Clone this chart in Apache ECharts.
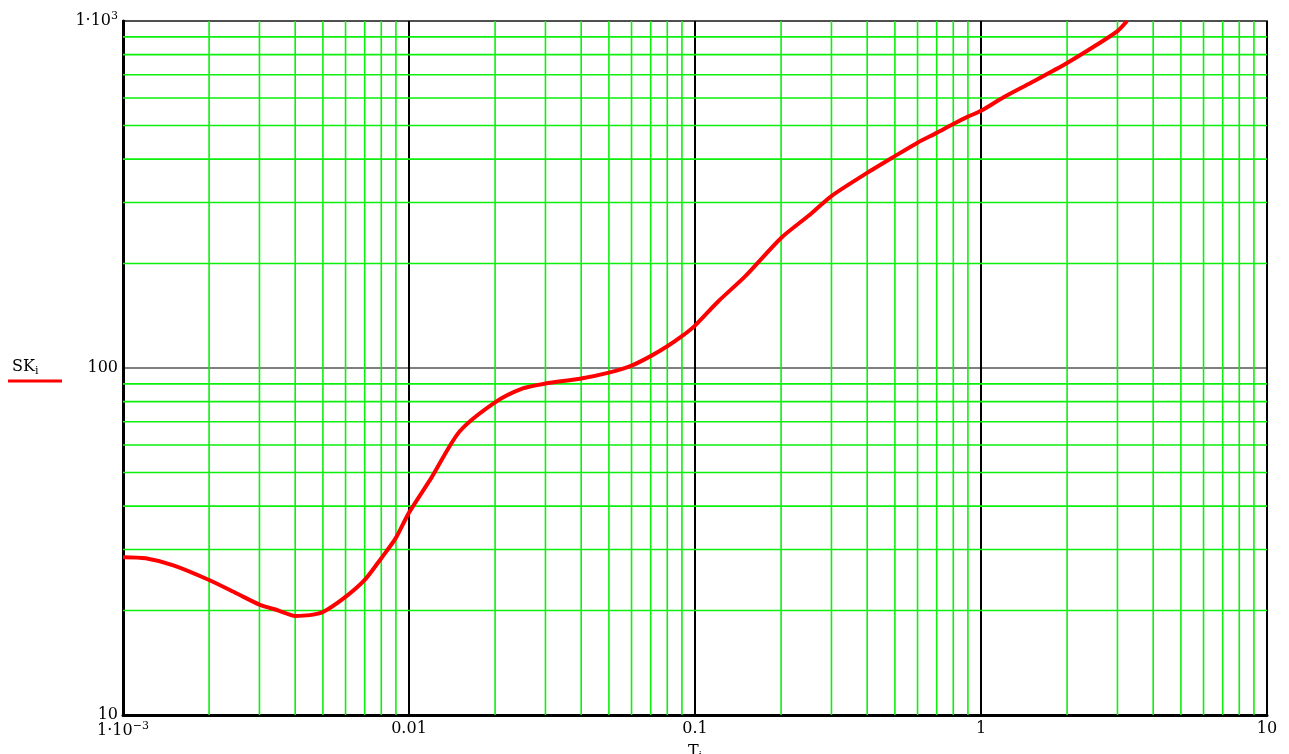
<!DOCTYPE html>
<html>
<head>
<meta charset="utf-8">
<script src="https://cdn.jsdelivr.net/npm/echarts@6/dist/echarts.min.js"></script>
<style>
  html, body { margin: 0; padding: 0; background: #fff; }
  #chart { width: 1289px; height: 754px; }
</style>
</head>
<body>
<div id="chart"></div>
<script>
// T_i values (x) and SK_i values (y)
var T = [0.001, 0.0012, 0.0015, 0.002, 0.0025, 0.003, 0.0035, 0.004, 0.0045, 0.005,
  0.006, 0.007, 0.008, 0.009, 0.01, 0.012, 0.015, 0.02, 0.025, 0.03,
  0.04, 0.05, 0.06, 0.07, 0.08, 0.09, 0.1, 0.12, 0.15, 0.2,
  0.25, 0.3, 0.4, 0.5, 0.6, 0.7, 0.8, 0.9, 1, 1.2,
  1.5, 2, 2.5, 3, 3.24]
var SK = [28.5, 28.3, 27.0, 24.5, 22.4, 20.8, 20.0, 19.3, 19.4, 19.8,
  21.9, 24.5, 28.3, 32.4, 38.3, 48.4, 65.5, 79.6, 87.3, 90.2,
  93.3, 97, 101.6, 108.2, 115.5, 123.5, 132.5, 155, 184, 237,
  275, 313, 365, 408, 446, 476, 505, 530, 551, 603,
  665, 757, 847, 935, 1000]

// tick labels
var xLabels = { '0.001': '1·10{sup|−3}', '0.01': '0.01', '0.1': '0.1', '1': '1', '10': '10' }
var yLabels = { '10': '10', '100': '100', '1000': '1·10{sup|3}' }

// minor grid positions (2..9 within each decade)
var xMinor = [0.002, 0.003, 0.004, 0.005, 0.006, 0.007, 0.008, 0.009,
  0.02, 0.03, 0.04, 0.05, 0.06, 0.07, 0.08, 0.09,
  0.2, 0.3, 0.4, 0.5, 0.6, 0.7, 0.8, 0.9,
  2, 3, 4, 5, 6, 7, 8, 9]
var yMinor = [20, 30, 40, 50, 60, 70, 80, 90,
  200, 300, 400, 500, 600, 700, 800, 900]

var chart = echarts.init(document.getElementById('chart'))

var font = 'DejaVu Serif'
var rich = {
  sup: { fontFamily: font, fontSize: 11, verticalAlign: 'top', padding: [0, 0, 9, 0], color: '#000' },
  sub: { fontFamily: font, fontSize: 11, padding: [9, 0, 0, 0], color: '#000' }
}

function labelKey(v) {
  return String(Math.round(v * 1e6) / 1e6)
}

// gridlines as broken line series: each one goes edge to edge
var xGrid = []
xMinor.forEach(function (v) { xGrid.push([v, 10], [v, 1000], '-') })
var yGrid = []
yMinor.forEach(function (v) { yGrid.push([0.001, v], [10, v], '-') })

var gridStyle = { color: '#0cf00c', width: 1.6 }

chart.setOption({
  animation: false,
  grid: {
    left: 123,
    right: 22,
    top: 21,
    bottom: 39,
    outerBoundsMode: 'none',
    containLabel: false,
    show: true,
    borderColor: '#000',
    borderWidth: 1.5
  },
  xAxis: {
    type: 'log',
    logBase: 10,
    min: 0.001,
    max: 10,
    name: 'T{sub|i}',
    nameLocation: 'middle',
    nameGap: 26,
    nameTextStyle: { fontFamily: font, fontSize: 16, color: '#000', rich: rich },
    axisLine: { lineStyle: { color: '#000', width: 3 } },
    axisTick: { show: false },
    splitLine: { show: true, lineStyle: { color: '#000', width: 2 } },
    axisLabel: {
      fontFamily: font,
      fontSize: 16,
      color: '#000',
      margin: 6,
      rich: rich,
      formatter: function (v) { return xLabels[labelKey(v)] || '' }
    }
  },
  yAxis: {
    type: 'log',
    logBase: 10,
    min: 10,
    max: 1000,
    axisLine: { lineStyle: { color: '#000', width: 3 } },
    axisTick: { show: false },
    splitLine: { show: true, lineStyle: { color: '#555', width: 1.5 } },
    axisLabel: {
      fontFamily: font,
      fontSize: 16,
      color: '#000',
      margin: 5,
      rich: rich,
      formatter: function (v) { return yLabels[labelKey(v)] || '' }
    }
  },
  graphic: [
    {
      type: 'text',
      left: 12,
      top: 359,
      style: {
        text: 'SK{sub|i}',
        fontFamily: font,
        fontSize: 16,
        fill: '#000',
        rich: rich
      }
    },
    {
      type: 'line',
      shape: { x1: 8, y1: 381, x2: 62, y2: 381 },
      style: { stroke: '#ff0000', lineWidth: 3 }
    }
  ],
  series: [
    {
      type: 'line',
      z: 1,
      silent: true,
      showSymbol: false,
      connectNulls: false,
      lineStyle: gridStyle,
      data: xGrid
    },
    {
      type: 'line',
      z: 1,
      silent: true,
      showSymbol: false,
      connectNulls: false,
      lineStyle: gridStyle,
      data: yGrid
    },
    {
      name: 'SK',
      type: 'line',
      z: 5,
      showSymbol: false,
      smooth: 0.25,
      clip: true,
      lineStyle: { color: '#ff0000', width: 4 },
      data: T.map(function (t, i) { return [t, SK[i]] })
    }
  ]
})
</script>
</body>
</html>
